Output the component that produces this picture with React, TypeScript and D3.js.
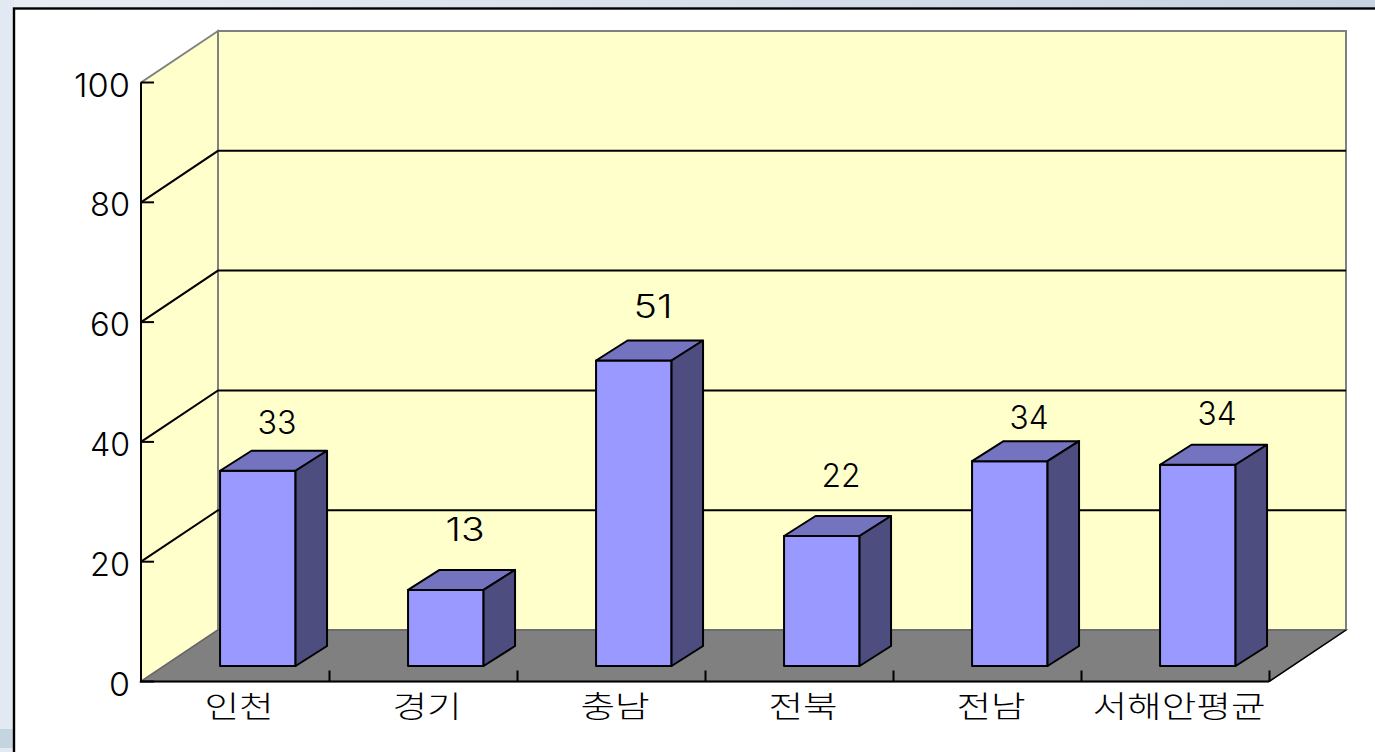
import React from "react";
import * as d3 from "d3";

const categories = ["인천", "경기", "충남", "전북", "전남", "서해안평균"];
const seriesValues = [32.6, 12.7, 51, 21.7, 34.2, 33.6];
const valueLabels = ["33", "13", "51", "22", "34", "34"];
const yTicks = [0, 20, 40, 60, 80, 100];

const W = 1375, H = 752;
const frontLeft = 141, frontRight = 1269, frontBottom = 681.5, frontTop = 82.5;
const depthX = 77, depthY = -51.5;
const barDepthX = 31.5, barDepthY = -20, barLift = 15.5, barW = 75.5;
const barOffset = 22.8;
// vertical gap between each bar's top and its label baseline
const labelGap = [37, 49, 43, 49, 32, 40];

const x = d3.scaleBand<string>().domain(categories).range([frontLeft, frontRight]);
const y = d3.scaleLinear().domain([0, 100]).range([frontBottom, frontTop]);
const poly = d3.line<[number, number]>().curve(d3.curveLinearClosed);

const digitFont = "Inter, 'Liberation Sans', sans-serif";
const krFont = "'Noto Sans CJK KR', sans-serif";

export default function App() {
  return (
    <svg width={W} height={H} style={{ position: "fixed", left: 0, top: 0, display: "block" }}>
      <defs>
        <linearGradient id="pg" x1="0" y1="0" x2="1" y2="0">
          <stop offset="0" stopColor="#e9edf4" />
          <stop offset="1" stopColor="#c6d2e2" />
        </linearGradient>
      </defs>
      <rect x={0} y={0} width={W} height={H} fill="url(#pg)" />
      <rect x={0} y={0} width={14} height={H} fill="#e3e9f2" />
      <rect x={0} y={729} width={14} height={19} fill="#c5d5e0" />
      <rect x={14} y={8.5} width={W} height={H} fill="#fff" stroke="#000" strokeWidth={2.4} />

      {/* back wall */}
      <rect x={frontLeft + depthX} y={frontTop + depthY} width={frontRight - frontLeft} height={frontBottom - frontTop}
        fill="#ffffcc" stroke="#808080" strokeWidth={2} />
      {/* side wall */}
      <path d={poly([[frontLeft, frontBottom], [frontLeft, frontTop], [frontLeft + depthX, frontTop + depthY], [frontLeft + depthX, frontBottom + depthY]]) ?? ""}
        fill="#ffffcc" stroke="#808080" strokeWidth={2} />
      {/* floor */}
      <path d={poly([[frontLeft, frontBottom], [frontRight, frontBottom], [frontRight + depthX, frontBottom + depthY], [frontLeft + depthX, frontBottom + depthY]]) ?? ""}
        fill="#808080" stroke="#666666" strokeWidth={1.5} />

      {/* gridlines */}
      {yTicks.filter(t => t > 0 && t < 100).map(t => (
        <path key={t} d={`M${frontLeft},${y(t)}L${frontLeft + depthX},${y(t) + depthY}H${frontRight + depthX}`}
          fill="none" stroke="#000" strokeWidth={2} />
      ))}

      {/* axes */}
      <path d={`M${frontLeft},${frontTop}V${frontBottom}H${frontRight}`} fill="none" stroke="#000" strokeWidth={2} />
      {yTicks.map(t => (
        <line key={t} x1={frontLeft} x2={frontLeft + 13} y1={y(t)} y2={y(t)} stroke="#000" strokeWidth={2} />
      ))}
      {categories.map(c => (
        <line key={c} x1={x(c)! + x.bandwidth() + 0.5} x2={x(c)! + x.bandwidth() + 0.5} y1={frontBottom - 11} y2={frontBottom} stroke="#000" strokeWidth={2} />
      ))}
      <line x1={frontRight} y1={frontBottom} x2={frontRight + depthX} y2={frontBottom + depthY} stroke="#000" strokeWidth={1.5} />

      {/* bars */}
      {categories.map((c, i) => {
        const l = x(c)! + (x.bandwidth() - barW) / 2 + barOffset;
        const r = l + barW;
        const b = frontBottom - barLift;
        const t = y(seriesValues[i]) - barLift;
        return (
          <g key={c} stroke="#000" strokeWidth={2} strokeLinejoin="round">
            <rect x={l} y={t} width={barW} height={b - t} fill="#9999ff" />
            <path d={poly([[l, t], [r, t], [r + barDepthX, t + barDepthY], [l + barDepthX, t + barDepthY]]) ?? ""} fill="#7373bf" />
            <path d={poly([[r, t], [r + barDepthX, t + barDepthY], [r + barDepthX, b + barDepthY], [r, b]]) ?? ""} fill="#4d4d7f" />
          </g>
        );
      })}

      {/* tick labels */}
      {yTicks.map(t => (
        <text key={t} x={130} y={y(t) + 14} textAnchor="end" fontFamily={digitFont} fontWeight={300} fontSize={32} fill="#000"
          lengthAdjust="spacingAndGlyphs" textLength={t === 100 ? 56 : t === 0 ? 21 : 40}>{t}</text>
      ))}
      {categories.map(c => (
        <text key={c} x={x(c)! + x.bandwidth() / 2 + 4} y={717} textAnchor="middle" fontFamily={krFont} fontWeight={300} fontSize={30} fill="#000"
          lengthAdjust="spacingAndGlyphs" textLength={c.length * 34.6}>{c}</text>
      ))}
      {categories.map((c, i) => (
        <text key={c} x={x(c)! + (x.bandwidth() - barW) / 2 + barOffset + 57} y={y(seriesValues[i]) - barLift - labelGap[i]} textAnchor="middle"
          fontFamily={digitFont} fontWeight={300} fontSize={32}
          lengthAdjust="spacingAndGlyphs" textLength={39} fill="#000">{valueLabels[i]}</text>
      ))}
    </svg>
  );
}
